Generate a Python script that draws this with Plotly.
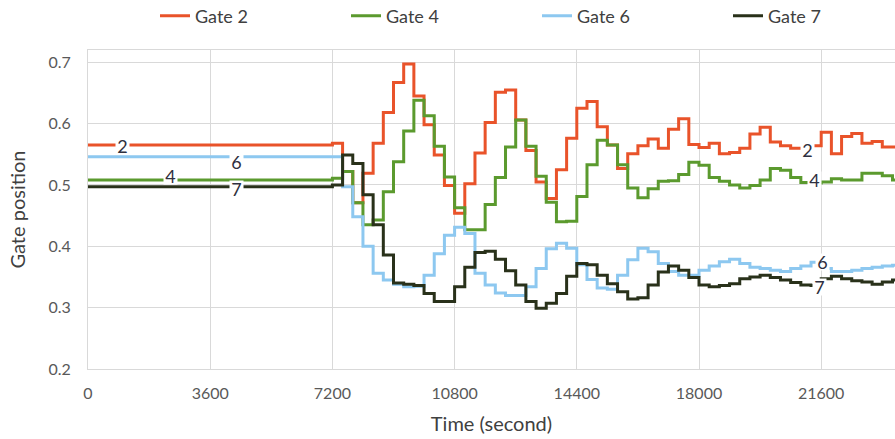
import plotly.graph_objects as go

# Step start times (seconds); last point closes the final step
TIME_S = [0, 7200, 7500, 7800, 8100, 8400, 8700, 9000, 9300, 9600, 9900,
          10200, 10500, 10800, 11100, 11400, 11700, 12000, 12300, 12600, 12900,
          13200, 13500, 13800, 14100, 14400, 14700, 15000, 15300, 15600, 15900,
          16200, 16500, 16800, 17100, 17400, 17700, 18000, 18300, 18600, 18900,
          19200, 19500, 19800, 20100, 20400, 20700, 21000, 21300, 21600, 21900,
          22200, 22500, 22800, 23100, 23400, 23700, 24000]

GATE_2 = [0.565,
          0.568, 0.522, 0.471, 0.519, 0.568, 0.618, 0.667, 0.697, 0.645, 0.598,
          0.549, 0.499, 0.454, 0.502, 0.552, 0.602, 0.651, 0.655, 0.606, 0.556,
          0.505, 0.478, 0.525, 0.576, 0.625, 0.636, 0.595, 0.565, 0.527, 0.551,
          0.564, 0.575, 0.560, 0.591, 0.608, 0.566, 0.561, 0.568, 0.551, 0.553,
          0.560, 0.583, 0.594, 0.570, 0.564, 0.560, 0.560, 0.564, 0.586, 0.551,
          0.579, 0.584, 0.568, 0.571, 0.562, 0.562]

GATE_4 = [0.508,
          0.511, 0.522, 0.471, 0.435, 0.443, 0.489, 0.538, 0.588, 0.638, 0.613,
          0.563, 0.513, 0.463, 0.427, 0.427, 0.468, 0.512, 0.562, 0.606, 0.563,
          0.514, 0.472, 0.440, 0.441, 0.481, 0.533, 0.573, 0.565, 0.533, 0.495,
          0.479, 0.494, 0.506, 0.507, 0.517, 0.537, 0.532, 0.512, 0.506, 0.500,
          0.495, 0.499, 0.508, 0.527, 0.524, 0.512, 0.504, 0.503, 0.505, 0.510,
          0.508, 0.508, 0.519, 0.519, 0.515, 0.508]

GATE_6 = [0.546,
          0.546, 0.497, 0.448, 0.400, 0.356, 0.345, 0.338, 0.334, 0.335, 0.353,
          0.388, 0.418, 0.431, 0.421, 0.356, 0.337, 0.324, 0.320, 0.320, 0.334,
          0.364, 0.396, 0.405, 0.397, 0.370, 0.346, 0.332, 0.330, 0.353, 0.378,
          0.397, 0.391, 0.372, 0.359, 0.353, 0.353, 0.361, 0.368, 0.375, 0.379,
          0.372, 0.366, 0.364, 0.361, 0.359, 0.364, 0.368, 0.374, 0.364, 0.359,
          0.359, 0.361, 0.364, 0.366, 0.368, 0.369]

GATE_7 = [0.497,
          0.500, 0.549, 0.535, 0.484, 0.435, 0.386, 0.340, 0.338, 0.336, 0.323,
          0.310, 0.310, 0.334, 0.366, 0.390, 0.392, 0.379, 0.360, 0.337, 0.310,
          0.299, 0.307, 0.323, 0.351, 0.372, 0.370, 0.353, 0.339, 0.326, 0.314,
          0.316, 0.337, 0.358, 0.368, 0.361, 0.349, 0.337, 0.334, 0.336, 0.339,
          0.347, 0.350, 0.353, 0.349, 0.345, 0.341, 0.337, 0.336, 0.347, 0.351,
          0.347, 0.344, 0.342, 0.338, 0.342, 0.345]

SERIES = [("Gate 2", GATE_2, "#E9532A"),
          ("Gate 4", GATE_4, "#5B9A2E"),
          ("Gate 6", GATE_6, "#8DC8F0"),
          ("Gate 7", GATE_7, "#29311A")]

X_TICKS = [0, 3600, 7200, 10800, 14400, 18000, 21600]
X_TICK_TEXT = ["0", "3600", "7200", "10800", "14400", "18000", "21600"]
Y_TICKS = [0.2, 0.3, 0.4, 0.5, 0.6, 0.7]

# inline series labels: (text, time, value)
LABELS = [("2", 1020, 0.564), ("6", 4360, 0.537), ("4", 2440, 0.515), ("7", 4360, 0.4935),
          ("2", 21190, 0.557), ("4", 21390, 0.508), ("6", 21650, 0.374), ("7", 21560, 0.334)]

fig = go.Figure()
for name, vals, color in SERIES:
    fig.add_trace(go.Scatter(
        x=TIME_S, y=vals + [vals[-1]], name=name, mode="lines",
        line=dict(color=color, width=3, shape="hv"),
    ))

for text, tx, ty in LABELS:
    fig.add_annotation(x=tx, y=ty, text=text, showarrow=False,
                       bgcolor="white", borderpad=0, width=13, height=16,
                       font=dict(family="Lato", size=18, color="#2F3040"))

grid = "#D9D9D9"
fig.update_layout(
    template="none",
    width=895, height=439,
    margin=dict(l=88, r=0, t=50, b=70),
    paper_bgcolor="white", plot_bgcolor="white",
    font=dict(family="Lato", color="#595959"),
    showlegend=True,
    legend=dict(orientation="h", xref="container", yref="container",
                x=155 / 895, y=1 - 16 / 439, xanchor="left", yanchor="middle",
                entrywidth=191 / 807, entrywidthmode="fraction",
                font=dict(family="Lato", size=18, color="#404040"),
                bgcolor="rgba(0,0,0,0)", borderwidth=0),
    xaxis=dict(range=[0, 23774], tickvals=X_TICKS, ticktext=X_TICK_TEXT,
               showgrid=True, gridcolor=grid,
               gridwidth=1, showline=True, linecolor=grid, linewidth=1, mirror=True,
               zeroline=False, ticks="", ticklabelstandoff=10,
               tickfont=dict(family="Lato", size=16, color="#595959"),
               title=dict(text="Time (second)", standoff=15,
                          font=dict(family="Lato", size=20, color="#404040"))),
    yaxis=dict(range=[0.2, 0.72], tickvals=Y_TICKS, tickformat=".1f", showgrid=True,
               gridcolor=grid, gridwidth=1, showline=True, linecolor=grid, linewidth=1,
               zeroline=False, ticks="", ticklabelstandoff=13,
               tickfont=dict(family="Lato", size=16, color="#595959"),
               title=dict(text="Gate position", standoff=17,
                          font=dict(family="Lato", size=20, color="#404040"))),
)

fig.write_html("out.html")
